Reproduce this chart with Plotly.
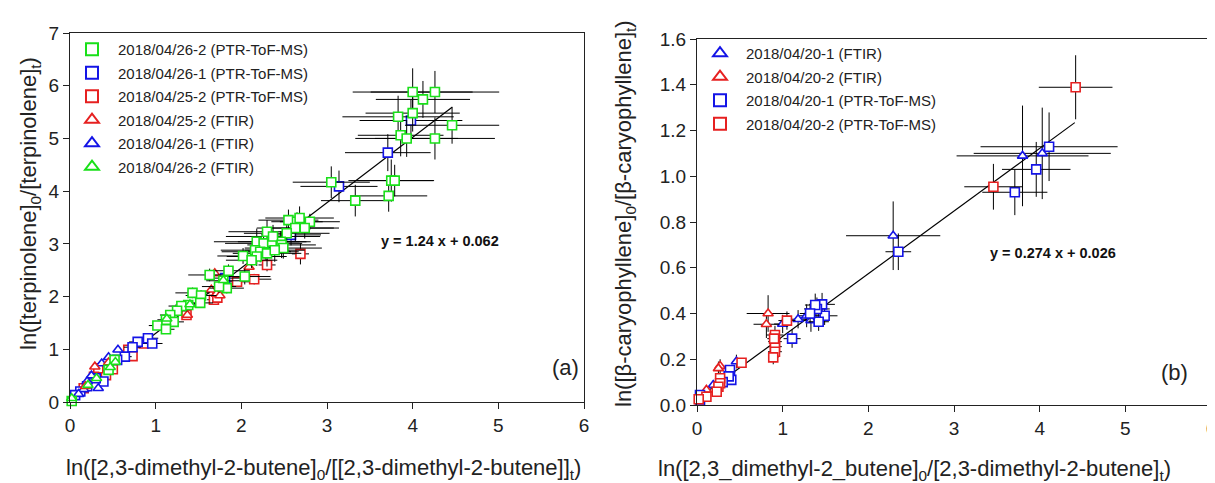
#!/usr/bin/env python3

import plotly.graph_objs as go

# Panel (a): terpinolene vs 2,3-dimethyl-2-butene.
g_ptr_x = [4.00, 4.26, 4.12, 3.83, 4.00, 4.46, 3.86, 3.93, 4.26, 3.75, 3.79, 3.72, 3.33, 3.05,
           2.55, 2.65, 2.68, 2.80, 2.74, 2.63, 2.53, 2.30, 2.18, 2.26, 2.36, 2.46, 2.37, 2.47, 2.49,
           2.16, 2.22, 2.30, 2.39, 2.02, 2.18, 2.12,
           1.85, 2.04, 1.63, 1.79, 1.83, 1.74, 1.43, 1.53, 1.52, 1.38, 1.30, 1.25, 1.17, 1.21, 1.12,
           1.02, 1.12, 0.45, 0.52, 0.02]
g_ptr_y = [5.88, 5.88, 5.74, 5.41, 5.48, 5.25, 5.06, 5.00, 5.00, 4.20, 4.20, 3.91, 3.82, 4.17,
           3.45, 3.42, 3.49, 3.42, 3.30, 3.30, 3.20, 3.23, 3.04, 3.01, 3.04, 3.04, 3.14, 2.98, 2.92,
           2.88, 2.85, 2.82, 2.88, 2.77, 2.76, 2.69,
           2.49, 2.38, 2.41, 2.30, 2.16, 2.19, 2.07, 2.02, 1.88, 1.84, 1.82, 1.73, 1.65, 1.52, 1.56,
           1.45, 1.38, 0.61, 0.80, 0.02]
g_ptr_xerr = [0.70, 0.75, 0.55, 0.65, 0.55, 0.55, 0.50, 0.60, 0.70, 0.50, 0.45, 0.45, 0.40, 0.45,
              0.35, 0.30, 0.40, 0.35, 0.40, 0.45, 0.50, 0.45, 0.50, 0.45, 0.40, 0.35, 0.55, 0.40, 0.45,
              0.40, 0.45, 0.40, 0.35, 0.30, 0.35, 0.30,
              0.25, 0.30, 0.25, 0.20, 0.20, 0.20, 0.20, 0.18, 0.15, 0.15, 0.15, 0.12, 0.12, 0.12, 0.10,
              0.10, 0.10, 0.05, 0.05, 0.02]
g_ptr_yerr = [0.45, 0.40, 0.35, 0.40, 0.35, 0.35, 0.40, 0.35, 0.40, 0.40, 0.30, 0.30, 0.30, 0.30,
              0.20, 0.18, 0.22, 0.15, 0.20, 0.25, 0.20, 0.22, 0.25, 0.20, 0.18, 0.20, 0.22, 0.25, 0.20,
              0.18, 0.20, 0.25, 0.22, 0.15, 0.18, 0.15,
              0.12, 0.15, 0.12, 0.10, 0.10, 0.12, 0.10, 0.10, 0.08, 0.08, 0.08, 0.08, 0.07, 0.07, 0.06,
              0.06, 0.06, 0.03, 0.03, 0.01]

b_ptr_x = [3.98, 3.71, 3.14, 2.58, 2.28, 1.81, 0.91, 0.96, 0.79, 0.73, 0.64, 0.55, 0.39, 0.30, 0.20, 0.12, 0.06]
b_ptr_y = [5.34, 4.73, 4.09, 3.17, 2.85, 2.35, 1.21, 1.11, 1.14, 1.04, 0.86, 0.80, 0.39, 0.45, 0.30, 0.20, 0.13]
b_ptr_xerr = [0.60, 0.50, 0.45, 0.35, 0.30, 0.20, 0.12, 0.12, 0.10, 0.10, 0.08, 0.08, 0.05, 0.05, 0.04, 0.03, 0.02]
b_ptr_yerr = [0.40, 0.35, 0.30, 0.20, 0.15, 0.10, 0.06, 0.06, 0.05, 0.05, 0.04, 0.04, 0.03, 0.03, 0.02, 0.02, 0.01]

r_ptr_x = [2.69, 2.30, 2.15, 1.95, 1.68, 1.72, 1.36, 0.86, 0.68, 0.73, 0.50, 0.42, 0.33, 0.28, 0.16]
r_ptr_y = [2.81, 2.60, 2.33, 2.28, 1.94, 1.98, 1.65, 1.11, 0.99, 0.87, 0.62, 0.51, 0.64, 0.48, 0.26]
r_ptr_xerr = [0.10, 0.10, 0.20, 0.15, 0.08, 0.08, 0.05, 0.05, 0.04, 0.04, 0.03, 0.03, 0.03, 0.02, 0.02]
r_ptr_yerr = [0.20, 0.12, 0.10, 0.08, 0.06, 0.06, 0.05, 0.04, 0.04, 0.04, 0.03, 0.03, 0.03, 0.02, 0.02]

r_ftir_x = [2.09, 1.69, 1.65, 1.71, 1.75, 1.37, 0.45, 0.29, 0.18]
r_ftir_y = [2.56, 2.44, 2.13, 2.05, 2.02, 1.65, 0.75, 0.67, 0.30]
b_ftir_x = [0.56, 0.45, 0.37, 0.25, 0.20, 0.33, 0.16, 0.10]
b_ftir_y = [0.99, 0.85, 0.73, 0.50, 0.39, 0.26, 0.24, 0.15]
g_ftir_x = [1.79, 1.40, 1.13, 0.53, 0.47, 0.31, 0.21, 0.02]
g_ftir_y = [2.31, 1.85, 1.58, 0.76, 0.66, 0.45, 0.32, 0.07]

fit_a = (1.24, 0.062)
fit_a_x = [0, 4.46]

# Panel (b): beta-caryophyllene vs 2,3-dimethyl-2-butene.
ftir1_x = [4.03, 3.80, 2.29, 1.33, 1.28, 1.18, 1.00, 0.46, 0.38, 0.19]
ftir1_y = [1.10, 1.089, 0.74, 0.37, 0.39, 0.375, 0.354, 0.19, 0.15, 0.087]
ftir1_xerr = [0.80, 0.77, 0.55, 0.10, 0.10, 0.08, 0.10, 0.05, 0.05, 0.03]
ftir1_yerr = [0.20, 0.22, 0.15, 0.05, 0.05, 0.04, 0.04, 0.03, 0.02, 0.02]

ftir2_x = [0.83, 0.81, 0.27, 0.25, 0.11]
ftir2_y = [0.40, 0.353, 0.17, 0.16, 0.066]
ftir2_xerr = [0.25, 0.15, 0.05, 0.04, 0.03]
ftir2_yerr = [0.08, 0.06, 0.03, 0.03, 0.02]

ptr1_x = [4.11, 3.96, 3.71, 2.35, 1.49, 1.46, 1.42, 1.40, 1.38, 1.32, 1.11, 0.40, 0.385, 0.37, 0.30, 0.035, 0.035]
ptr1_y = [1.129, 1.03, 0.93, 0.67, 0.39, 0.44, 0.364, 0.42, 0.437, 0.40, 0.29, 0.11, 0.153, 0.125, 0.10, 0.044, 0.02]
ptr1_xerr = [0.80, 0.40, 0.38, 0.15, 0.15, 0.15, 0.12, 0.15, 0.12, 0.12, 0.10, 0.04, 0.04, 0.04, 0.03, 0.02, 0.02]
ptr1_yerr = [0.15, 0.12, 0.10, 0.08, 0.04, 0.05, 0.04, 0.05, 0.05, 0.04, 0.04, 0.02, 0.02, 0.02, 0.02, 0.01, 0.01]

ptr2_x = [4.42, 3.46, 1.05, 0.91, 0.91, 0.91, 0.91, 0.90, 0.89, 0.52, 0.27, 0.27, 0.25, 0.23, 0.11, 0.02]
ptr2_y = [1.389, 0.954, 0.369, 0.306, 0.277, 0.255, 0.233, 0.29, 0.208, 0.185, 0.117, 0.095, 0.08, 0.058, 0.036, 0.025]
ptr2_xerr = [0.43, 0.34, 0.10, 0.10, 0.08, 0.08, 0.08, 0.08, 0.06, 0.05, 0.03, 0.03, 0.03, 0.03, 0.02, 0.01]
ptr2_yerr = [0.14, 0.10, 0.04, 0.04, 0.04, 0.03, 0.03, 0.03, 0.03, 0.02, 0.02, 0.02, 0.01, 0.01, 0.01, 0.01]

fit_b = (0.274, 0.026)
fit_b_x = [0, 4.41]

GREEN = "#19e019"
BLUE = "#1414e6"
RED = "#e62020"
FONT = "Liberation Sans, Arial, sans-serif"


def pts(x, y, color, symbol, name, axes, legend, rank, xerr=None, yerr=None):
    # White-filled markers with a coloured edge, black error bars without caps.
    tr = go.Scatter(
        x=x, y=y, mode="markers", name=name,
        xaxis=axes[0], yaxis=axes[1], legend=legend, legendrank=rank,
        legendgroup=name, cliponaxis=False,
        marker=dict(symbol=symbol, size=9, color="white", line=dict(color=color, width=1.6)))
    if xerr is not None:
        tr.error_x = dict(type="data", array=xerr, color="black", thickness=1, width=0)
    if yerr is not None:
        tr.error_y = dict(type="data", array=yerr, color="black", thickness=1, width=0)
    return tr


def main():
    fig = go.Figure()

    # Fit lines first, so the markers sit on top.
    fig.add_trace(go.Scatter(x=fit_a_x, y=[fit_a[0] * v + fit_a[1] for v in fit_a_x],
                             mode="lines", line=dict(color="black", width=1.2),
                             showlegend=False, xaxis="x", yaxis="y"))
    fig.add_trace(go.Scatter(x=fit_b_x, y=[fit_b[0] * v + fit_b[1] for v in fit_b_x],
                             mode="lines", line=dict(color="black", width=1.2),
                             showlegend=False, xaxis="x2", yaxis="y2"))

    a = ("x", "y")
    fig.add_trace(pts(r_ptr_x, r_ptr_y, RED, "square", "2018/04/25-2 (PTR-ToF-MS)", a, "legend", 3,
                      r_ptr_xerr, r_ptr_yerr))
    fig.add_trace(pts(b_ptr_x, b_ptr_y, BLUE, "square", "2018/04/26-1 (PTR-ToF-MS)", a, "legend", 2,
                      b_ptr_xerr, b_ptr_yerr))
    fig.add_trace(pts(b_ftir_x, b_ftir_y, BLUE, "triangle-up", "2018/04/26-1 (FTIR)", a, "legend", 5))
    fig.add_trace(pts(r_ftir_x, r_ftir_y, RED, "triangle-up", "2018/04/25-2 (FTIR)", a, "legend", 4))
    fig.add_trace(pts(g_ptr_x, g_ptr_y, GREEN, "square", "2018/04/26-2 (PTR-ToF-MS)", a, "legend", 1,
                      g_ptr_xerr, g_ptr_yerr))
    fig.add_trace(pts(g_ftir_x, g_ftir_y, GREEN, "triangle-up", "2018/04/26-2 (FTIR)", a, "legend", 6))

    b = ("x2", "y2")
    fig.add_trace(pts(ftir1_x, ftir1_y, BLUE, "triangle-up", "2018/04/20-1 (FTIR)", b, "legend2", 1,
                      ftir1_xerr, ftir1_yerr))
    fig.add_trace(pts(ftir2_x, ftir2_y, RED, "triangle-up", "2018/04/20-2 (FTIR)", b, "legend2", 2,
                      ftir2_xerr, ftir2_yerr))
    fig.add_trace(pts(ptr1_x, ptr1_y, BLUE, "square", "2018/04/20-1 (PTR-ToF-MS)", b, "legend2", 3,
                      ptr1_xerr, ptr1_yerr))
    fig.add_trace(pts(ptr2_x, ptr2_y, RED, "square", "2018/04/20-2 (PTR-ToF-MS)", b, "legend2", 4,
                      ptr2_xerr, ptr2_yerr))

    # The page body adds an 8px margin, so the figure is a bit smaller than the window.
    W, H = 1207, 475
    axis = dict(showline=True, linecolor="#222", linewidth=1.3, mirror=True, ticks="outside",
                ticklen=6, tickcolor="#222", showgrid=False, zeroline=False, automargin=False,
                ticklabeloverflow="allow",
                tickfont=dict(family=FONT, size=19, color="#222"))
    leg = dict(bgcolor="rgba(0,0,0,0)", font=dict(family=FONT, size=15, color="#222"),
               xanchor="left", yanchor="top", tracegroupgap=1, itemwidth=42,
               itemsizing="constant")

    fig.update_layout(
        width=W, height=H, margin=dict(l=0, r=0, t=0, b=0, autoexpand=False),
        paper_bgcolor="white", plot_bgcolor="white",
        xaxis=dict(axis, domain=[62 / W, 576 / W], range=[0, 6], dtick=1, anchor="y"),
        yaxis=dict(axis, domain=[1 - 394 / H, 1 - 25 / H], range=[0, 7], dtick=1, anchor="x"),
        xaxis2=dict(axis, domain=[689 / W, 1203 / W], range=[0, 6], dtick=1, anchor="y2"),
        yaxis2=dict(axis, domain=[1 - 397 / H, 1 - 31 / H], range=[0, 1.6], dtick=0.2,
                    tickformat=".1f", anchor="x2"),
        legend=dict(leg, x=58 / W, y=1 - 25 / H),
        legend2=dict(leg, x=686 / W, y=1 - 29 / H),
    )

    title_font = dict(family=FONT, size=22, color="#222")
    notes = [
        dict(x=316 / W, y=1 - 461 / H,
             text="ln([2,3-dimethyl-2-butene]<sub>0</sub>/[[2,3-dimethyl-2-butene]]<sub>t</sub>)"),
        dict(x=906 / W, y=1 - 462 / H,
             text="ln([2,3_dimethyl-2_butene]<sub>0</sub>/[2,3-dimethyl-2-butene]<sub>t</sub>)"),
        dict(x=22 / W, y=1 - 196 / H, textangle=-90,
             text="ln([terpinolene]<sub>0</sub>/[terpinolene]<sub>t</sub>)"),
        dict(x=617 / W, y=1 - 205 / H, textangle=-90,
             text="ln([\u03b2-caryophyllene]<sub>0</sub>/[\u03b2-caryophyllene]<sub>t</sub>)"),
    ]
    for n in notes:
        fig.add_annotation(xref="paper", yref="paper", showarrow=False, font=title_font,
                           xanchor="center", yanchor="middle", **n)

    eq_font = dict(family=FONT, size=14.5, color="#111")
    fig.add_annotation(x=4.32, y=3.05, xref="x", yref="y", showarrow=False, font=eq_font,
                       text="<b>y = 1.24 x + 0.062</b>")
    fig.add_annotation(x=4.16, y=0.665, xref="x2", yref="y2", showarrow=False, font=eq_font,
                       text="<b>y = 0.274 x + 0.026</b>")

    # Panel labels.
    fig.add_annotation(x=557 / W, y=1 - 374 / H, xref="paper", yref="paper", showarrow=False,
                       font=title_font, text="(a)")
    fig.add_annotation(x=1182 / W, y=1 - 379 / H, xref="paper", yref="paper", showarrow=False,
                       font=title_font, text="(b)")

    fig.write_html("out.html")


if __name__ == "__main__":
    main()
